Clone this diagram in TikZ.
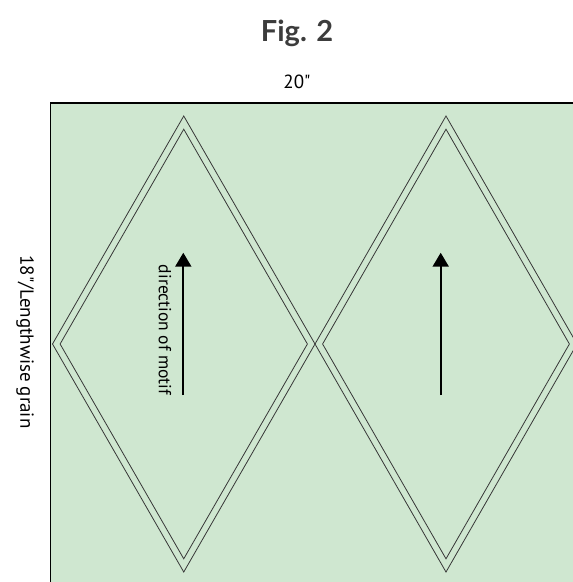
\documentclass[tikz,border=0pt]{standalone}
\usepackage{fontspec}
\setmainfont{PT Sans}[Ligatures=TeXOff]
\newfontfamily\figfont{Lato}
\usepackage{xcolor}
\usetikzlibrary{arrows.meta}
\definecolor{sheetgreen}{RGB}{207,231,208}
\definecolor{seamgray}{RGB}{55,55,55}
\definecolor{titlegray}{RGB}{60,60,60}

\begin{document}
\begin{tikzpicture}[x=1pt,y=1pt,yscale=-1,xscale=1]
%set diagram to the size of the page, fabric runs off right and bottom
\useasboundingbox (0,0) rectangle (573,582);
\clip (0,0) rectangle (573,582);

%Shape: Rectangle [fabric piece]
\draw [color=black, fill=sheetgreen, line width=1.5] (50.7,103) -- (600,103) -- (600,600) -- (50.7,600) -- cycle ;

%Shape: Diamond [left, cutting line]
\draw [color=seamgray, line width=0.8] (52.5,344) -- (183.75,116) -- (315,344) -- (183.75,572) -- cycle ;
%Shape: Diamond [left, seam line]
\draw [color=seamgray, line width=0.8] (60.1,344) -- (183.75,129.2) -- (307.4,344) -- (183.75,558.8) -- cycle ;
%Shape: Diamond [right, cutting line]
\draw [color=seamgray, line width=0.8] (315,344) -- (446,116) -- (577,344) -- (446,572) -- cycle ;
%Shape: Diamond [right, seam line]
\draw [color=seamgray, line width=0.8] (322.6,344) -- (446,129.2) -- (569.4,344) -- (446,558.8) -- cycle ;

%Straight Lines [motif arrows]
\coordinate (tailL) at (183.3,395) ;
\coordinate (tipL) at (183.3,252.7) ;
\coordinate (tailR) at (440.7,395) ;
\coordinate (tipR) at (440.7,252.7) ;
\draw [line width=2, -{Triangle[width=16pt,length=14pt]}] (tailL) -- (tipL) ;
\draw [line width=2, -{Triangle[width=16pt,length=14pt]}] (tailR) -- (tipR) ;

% Text Node
\node [color=titlegray] (figTitle) at (297,33) {\figfont\bfseries\fontsize{29}{32}\selectfont Fig. 2};
% Text Node
\node (widthLabel) at (297,82) {\fontsize{19}{22}\selectfont 20"};
% Text Node
\node [rotate=-90] (grainLabel) at (25,342) {\fontsize{19}{22}\selectfont 18"/Lengthwise grain};
% Text Node
\node [rotate=-90] (motifLabel) at (165,330) {\fontsize{17.5}{20}\selectfont direction of motif};

\end{tikzpicture}
\end{document}
